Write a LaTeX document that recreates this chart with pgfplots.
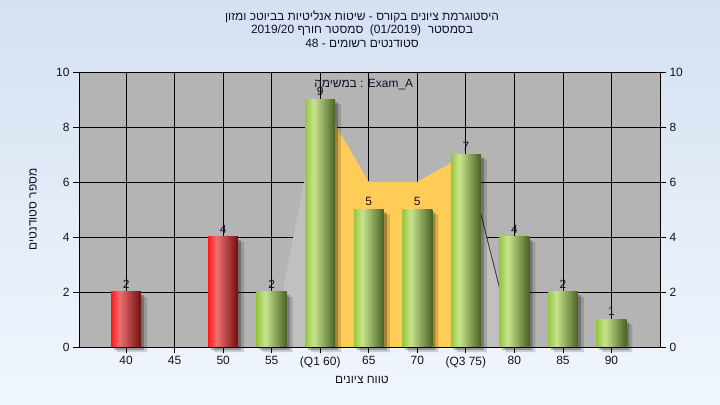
\documentclass[border=0pt]{standalone}
\usepackage{fontspec}
\setmainfont{Liberation Sans}
\newfontfamily\hebfont[Script=Hebrew]{Liberation Sans}
\usepackage{pgfplots}
\pgfplotsset{compat=1.18}
\TeXXeTstate=1
\definecolor{bgtop}{RGB}{213,225,241}
\definecolor{bgbot}{RGB}{240,246,253}
\definecolor{plotbg}{RGB}{180,180,180}
\definecolor{areagray}{RGB}{192,192,192}
\definecolor{yel}{RGB}{255,204,88}
\definecolor{gL}{RGB}{150,198,62}
\definecolor{gH}{RGB}{200,228,142}
\definecolor{gR}{RGB}{72,98,34}
\definecolor{rL}{RGB}{255,24,24}
\definecolor{rH}{RGB}{238,112,112}
\definecolor{rR}{RGB}{112,14,14}
\definecolor{txt}{RGB}{16,16,40}
\pgfdeclarehorizontalshading{greenbar}{100bp}{color(0bp)=(gL); color(25bp)=(gL); color(29bp)=(gL!70!gH); color(39bp)=(gH); color(75bp)=(gR); color(100bp)=(gR)}
\pgfdeclarehorizontalshading{redbar}{100bp}{color(0bp)=(rL); color(25bp)=(rL); color(29bp)=(rL!70!rH); color(39bp)=(rH); color(75bp)=(rR); color(100bp)=(rR)}
\newcommand{\tf}{\fontsize{12}{14}\selectfont}
\pgfplotsset{
  redb/.style={ybar, bar width=30bp, bar shift=0pt, draw=none, shading=redbar, nodes near coords},
  greenb/.style={ybar, bar width=30bp, bar shift=0pt, draw=none, shading=greenbar, nodes near coords},
}
\begin{document}
\begin{tikzpicture}
\shade[top color=bgtop, bottom color=bgbot] (0,0) rectangle (720bp,405bp);
\node[font=\tf\hebfont, text=txt] at (362bp,388bp) {\beginR היסטוגרמת ציונים בקורס - שיטות אנליטיות בביוטכ ומזון\endR};
\node[font=\tf\hebfont, text=txt] at (362bp,375bp) {\beginR בסמסטר \ \beginL(01/2019)\endL{} \ סמסטר חורף \beginL2019/20\endL\endR};
\node[font=\tf\hebfont, text=txt] at (362bp,362bp) {\beginR סטודנטים רשומים - \beginL48\endL\endR};
\begin{axis}[
  at={(79bp,58bp)}, anchor=south west,
  scale only axis, width=581bp, height=275bp,
  xmin=-0.97, xmax=11.0, ymin=0, ymax=10,
  clip=false,
  axis background/.style={fill=plotbg},
  xtick={0,...,10},
  xticklabels={40,45,50,55,(Q1 60),65,70,(Q3 75),80,85,90},
  ytick={0,2,...,10},
  xmajorgrids, ymajorgrids,
  grid style={black, line width=0.8bp},
  tick style={black, line width=0.8bp},
  tick align=outside, major tick length=6bp,
  xtick pos=bottom, ytick pos=left,
  axis line style={black, line width=0.8bp},
  /pgf/number format/assume math mode=true,
  tick label style={font=\tf, text=txt},
  xlabel={\hebfont\beginR טווח ציונים\endR},
  ylabel={\hebfont\beginR מספר סטודנטים\endR},
  label style={font=\tf, text=txt},
  xlabel style={at={(axis description cs:0.487,-0.12)}, anchor=center},
  ylabel style={at={(axis description cs:-0.079,0.5)}, anchor=center},
  every node near coord/.append style={font=\tf, text=txt},
]
\addplot[fill=areagray, draw=none] coordinates {(3,0) (4,9) (5,6) (6,6) (7,7) (8,0)} \closedcycle;
\addplot[fill=yel, draw=none] coordinates {(4,9) (5,6) (6,6) (7,7)} \closedcycle;
\addplot[draw=black!80, line width=0.8bp] coordinates {(7,7) (8,0)};
% shadows
\addplot[ybar, bar width=30bp, bar shift=6bp, yshift=-5bp, fill=black, opacity=0.15, draw=none]
  coordinates {(0,2) (2,4) (3,2) (4,9) (5,5) (6,5) (7,7) (8,4) (9,2) (10,1)};
\addplot[ybar, bar width=30bp, bar shift=3bp, yshift=-3bp, fill=black, opacity=0.25, draw=none]
  coordinates {(0,2) (2,4) (3,2) (4,9) (5,5) (6,5) (7,7) (8,4) (9,2) (10,1)};
% bars (one plot per bar, so that each bar carries its own shading)
\addplot[redb] coordinates {(0,2)};
\addplot[redb] coordinates {(2,4)};
\addplot[greenb] coordinates {(3,2)};
\addplot[greenb] coordinates {(4,9)};
\addplot[greenb] coordinates {(5,5)};
\addplot[greenb] coordinates {(6,5)};
\addplot[greenb] coordinates {(7,7)};
\addplot[greenb] coordinates {(8,4)};
\addplot[greenb] coordinates {(9,2)};
\addplot[greenb] coordinates {(10,1)};
\node[font=\tf, text=txt] at (axis description cs:0.49,0.955) {{\hebfont\beginR במשימה\endR} : Exam\_A};
\end{axis}
\begin{axis}[
  at={(79bp,58bp)}, anchor=south west,
  scale only axis, width=581bp, height=275bp,
  xmin=-0.97, xmax=11.0, ymin=0, ymax=10,
  axis x line=none, axis y line*=right,
  ytick={0,2,...,10},
  tick style={black, line width=0.8bp},
  tick align=outside, major tick length=6bp,
  axis line style={black, line width=0.8bp},
  /pgf/number format/assume math mode=true,
  tick label style={font=\tf, text=txt},
]
\addplot[draw=none] coordinates {(0,0)};
\end{axis}
\pgfresetboundingbox
\path (0,0) rectangle (720bp,405bp);
\end{tikzpicture}
\end{document}
